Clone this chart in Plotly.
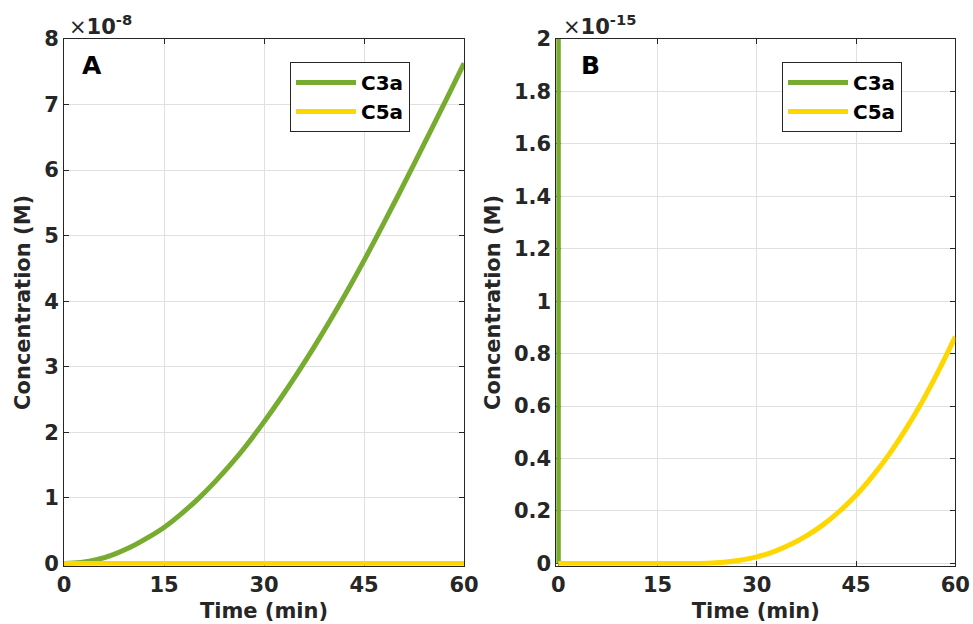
import plotly.graph_objects as go

# Time points (min)
time_min = [0, 2.5, 5, 7.5, 10, 12.5, 15, 17.5, 20, 22.5, 25, 27.5, 30,
            32.5, 35, 37.5, 40, 42.5, 45, 47.5, 50, 52.5, 55, 57.5, 60]

# Anaphylatoxin concentrations (M)
c3a_M = [v * 1e-8 for v in [0, 0.015, 0.06, 0.14, 0.25, 0.39, 0.55, 0.75, 0.975,
                            1.23, 1.51, 1.82, 2.16, 2.52, 2.90, 3.30, 3.72, 4.16,
                            4.62, 5.10, 5.59, 6.09, 6.60, 7.11, 7.63]]
c5a_M = [v * 1e-15 for v in [0, 0, 0, 0, 0, 0.000002, 0.00001, 0.00004, 0.0001,
                             0.0007, 0.0042, 0.012, 0.025, 0.044, 0.071, 0.105, 0.147,
                             0.199, 0.26, 0.333, 0.416, 0.511, 0.617, 0.736, 0.865]]

x_ticks = [0, 15, 30, 45, 60]
a_scale, a_ticks = 1e-8, [0, 1, 2, 3, 4, 5, 6, 7, 8]
b_scale, b_ticks = 1e-15, [0, 0.2, 0.4, 0.6, 0.8, 1.0, 1.2, 1.4, 1.6, 1.8, 2.0]
b_ticktext = ["0", "0.2", "0.4", "0.6", "0.8", "1", "1.2", "1.4", "1.6", "1.8", "2"]

GREEN = "#77AC30"
YELLOW = "#FFD700"
INK = "#262626"
FONT = "DejaVu Sans"
FS = 21

fig = go.Figure()

# Panel A (scaled by 1e-8)
fig.add_trace(go.Scatter(x=time_min, y=[v / a_scale for v in c3a_M], name="C3a",
                         mode="lines", line=dict(color=GREEN, width=5, shape="spline"),
                         xaxis="x", yaxis="y", legend="legend"))
fig.add_trace(go.Scatter(x=time_min, y=[v / a_scale for v in c5a_M], name="C5a",
                         mode="lines", line=dict(color=YELLOW, width=5, shape="spline"),
                         xaxis="x", yaxis="y", legend="legend"))
# Panel B (scaled by 1e-15)
fig.add_trace(go.Scatter(x=time_min, y=[v / b_scale for v in c3a_M], name="C3a",
                         mode="lines", line=dict(color=GREEN, width=5),
                         xaxis="x2", yaxis="y2", legend="legend2"))
fig.add_trace(go.Scatter(x=time_min, y=[v / b_scale for v in c5a_M], name="C5a",
                         mode="lines", line=dict(color=YELLOW, width=5, shape="spline"),
                         xaxis="x2", yaxis="y2", legend="legend2"))

axis_common = dict(
    showline=True, linecolor=INK, linewidth=1, mirror="ticks",
    ticks="inside", ticklen=5, tickcolor=INK, tickwidth=1,
    showgrid=True, gridcolor="#e0e0e0", gridwidth=1, zeroline=False,
    tickfont=dict(family=FONT, size=FS, color=INK, weight="bold"),
    layer="below traces", automargin=False,
)
title_font = dict(family=FONT, size=FS, color=INK, weight="bold")
legend_common = dict(
    xanchor="left", yanchor="top", bgcolor="white", bordercolor=INK, borderwidth=1,
    font=dict(family=FONT, size=20, color="black", weight="bold"),
    itemwidth=60, tracegroupgap=0,
)

fig.update_layout(
    width=973, height=624,
    margin=dict(l=0, r=0, t=0, b=0, autoexpand=False),
    paper_bgcolor="white", plot_bgcolor="white",
    font=dict(family=FONT, color=INK),
    xaxis=dict(axis_common, domain=[64 / 973, 464 / 973], range=[0, 60],
               tickvals=x_ticks, anchor="y",
               title=dict(text="Time (min)", font=title_font, standoff=7)),
    yaxis=dict(axis_common, domain=[0.0933, 0.9375], range=[-0.035, 8],
               tickvals=a_ticks, anchor="x",
               title=dict(text="Concentration (M)", font=title_font, standoff=7)),
    xaxis2=dict(axis_common, domain=[556.3 / 973, 955.3 / 973], range=[-0.3, 60],
                tickvals=x_ticks, anchor="y2",
                title=dict(text="Time (min)", font=title_font, standoff=7)),
    yaxis2=dict(axis_common, domain=[0.0933, 0.9375], range=[-0.009, 2],
                tickvals=b_ticks, ticktext=b_ticktext, anchor="x2",
                title=dict(text="Concentration (M)", font=title_font, standoff=7)),
    legend=dict(legend_common, x=290 / 973, y=(624 - 62) / 624),
    legend2=dict(legend_common, x=782 / 973, y=(624 - 62) / 624),
    showlegend=True,
)

# Panel letters and axis exponent labels
for xpx, letter in [(92, "A"), (590, "B")]:
    fig.add_annotation(x=xpx / 973, y=(624 - 66) / 624, xref="paper", yref="paper",
                       text=f"<b>{letter}</b>", showarrow=False,
                       font=dict(family=FONT, size=25, color="black"),
                       xanchor="center", yanchor="middle")
for xpx, exp in [(67, "-8"), (561, "-15")]:
    fig.add_annotation(x=xpx / 973, y=(624 - 25) / 624, xref="paper", yref="paper",
                       text=f"×<b>10<sup>{exp}</sup></b>", showarrow=False,
                       font=dict(family=FONT, size=FS, color=INK),
                       xanchor="left", yanchor="middle")

fig.write_html("out.html")
